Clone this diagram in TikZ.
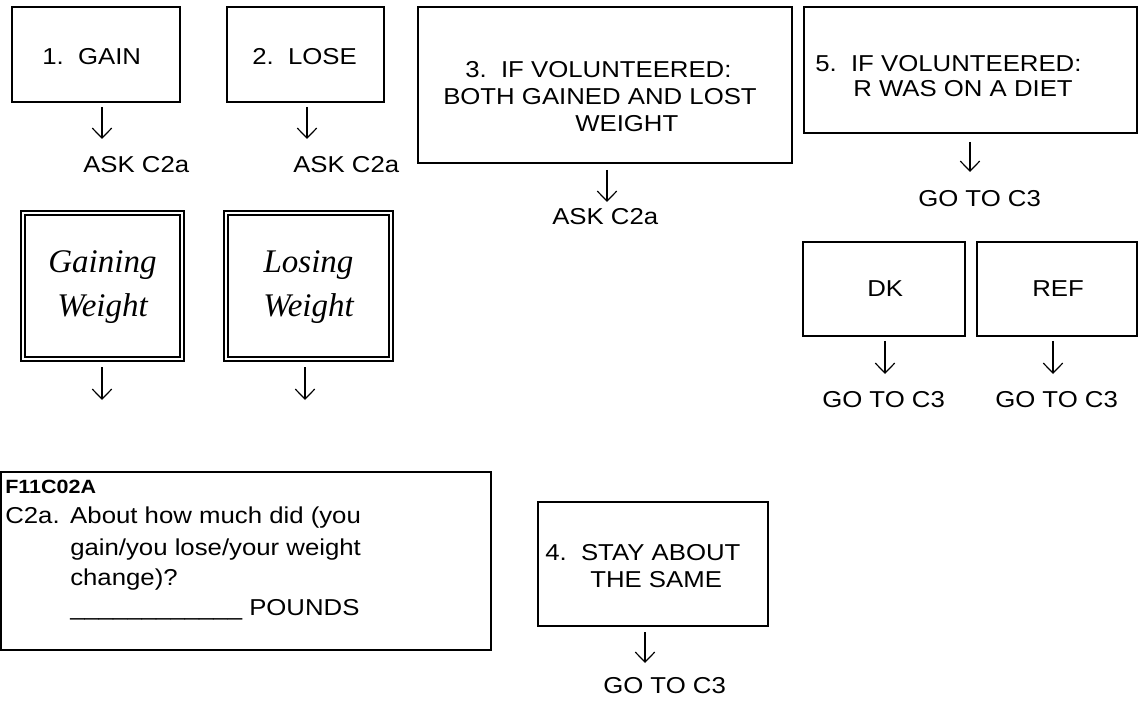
\documentclass[tikz,border=0pt]{standalone}
\usepackage{fontspec}
\usetikzlibrary{arrows.meta,fit}
\newfontfamily\arialf[FakeStretch=1.12]{Liberation Sans}
\newfontfamily\serifit{Liberation Serif}
\begin{document}
\begin{tikzpicture}[x=0.75pt,y=-0.75pt,
  box/.style={draw, line width=1.5pt, inner sep=0pt},
  dbox/.style={draw, double, line width=1.2pt, double distance=1.8pt, inner sep=0pt},
  txt/.style={anchor=base west, inner sep=0pt, font=\arialf\fontsize{17.25pt}{20pt}\selectfont},
  small/.style={anchor=base west, inner sep=0pt, font=\arialf\bfseries\fontsize{14.4pt}{16pt}\selectfont},
  ital/.style={anchor=base, inner sep=0pt, font=\serifit\itshape\fontsize{24.75pt}{30pt}\selectfont},
  arr/.style={line width=0.9pt, -{Straight Barb[length=7.5pt,width=14.5pt]}}
]
\useasboundingbox (0,0) rectangle (1139,702);

% boxes
\node[box, fit={(12,7) (180,102)}] (b1) {};
\node[box, fit={(227,7) (384,102)}] (b2) {};
\node[box, fit={(418,7) (792,163)}] (b3) {};
\node[box, fit={(804,7) (1137,133)}] (b5) {};
\node[box, fit={(803,242) (965,336)}] (dk) {};
\node[box, fit={(977,242) (1137,336)}] (ref) {};
\node[dbox, fit={(22.8,212.8) (182.2,359.2)}] (gw) {};
\node[dbox, fit={(225.8,212.8) (391.2,359.2)}] (lw) {};
\node[box, fit={(1,472) (491,650)}] (f11) {};
\node[box, fit={(538,502) (768,626)}] (b4) {};

% box texts
\node[txt] (t1) at (42,65) {1.\ \ GAIN};
\node[txt] (t2) at (252,65) {2.\ \ LOSE};
\node[txt] (t3a) at (465,78) {3.\ \ IF VOLUNTEERED:};
\node[txt] (t3b) at (443,105) {BOTH GAINED AND LOST};
\node[txt] (t3c) at (575,132) {WEIGHT};
\node[txt] (t5a) at (815,72) {5.\ \ IF VOLUNTEERED:};
\node[txt] (t5b) at (853,97) {R WAS ON A DIET};
\node[txt] (tdk) at (867,297) {DK};
\node[txt] (tref) at (1032,297) {REF};
\node[ital] (tg1) at (102.5,273) {Gaining};
\node[ital] (tg2) at (102.5,317) {Weight};
\node[ital] (tl1) at (308.5,273) {Losing};
\node[ital] (tl2) at (308.5,317) {Weight};
\node[small] (tf) at (5,493) {F11C02A};
\node[txt] (tq1) at (5,523) {\makebox[48.75pt][l]{C2a.}About how much did (you};
\node[txt] (tq2) at (70,555) {gain/you lose/your weight};
\node[txt] (tq3) at (70,585) {change)?};
\node[txt] (tq4) at (70,615) {\_\_\_\_\_\_\_\_\_\_\_\_ POUNDS};
\node[txt] (t4a) at (545,560) {4.\ \ STAY ABOUT};
\node[txt] (t4b) at (590,587) {THE SAME};

% outcome labels
\node[txt] (ask1) at (83,173) {ASK C2a};
\node[txt] (ask2) at (293,173) {ASK C2a};
\node[txt] (ask3) at (552,225) {ASK C2a};
\node[txt] (go5) at (918,207) {GO TO C3};
\node[txt] (godk) at (822,407) {GO TO C3};
\node[txt] (goref) at (995,407) {GO TO C3};
\node[txt] (go4) at (603,693) {GO TO C3};

% arrow end points
\coordinate (a1s) at (102,107);  \coordinate (a1e) at (102,139);
\coordinate (a2s) at (307,107);  \coordinate (a2e) at (307,139);
\coordinate (a3s) at (607,170);  \coordinate (a3e) at (607,202);
\coordinate (a5s) at (970,142);  \coordinate (a5e) at (970,172);
\coordinate (adks) at (885,341); \coordinate (adke) at (885,374);
\coordinate (arfs) at (1053,341);\coordinate (arfe) at (1053,374);
\coordinate (ags) at (102,367);  \coordinate (age) at (102,400);
\coordinate (als) at (305,367);  \coordinate (ale) at (305,400);
\coordinate (a4s) at (645,632);  \coordinate (a4e) at (645,663);

\draw[arr] (a1s) -- (a1e);
\draw[arr] (a2s) -- (a2e);
\draw[arr] (a3s) -- (a3e);
\draw[arr] (a5s) -- (a5e);
\draw[arr] (adks) -- (adke);
\draw[arr] (arfs) -- (arfe);
\draw[arr] (ags) -- (age);
\draw[arr] (als) -- (ale);
\draw[arr] (a4s) -- (a4e);
\end{tikzpicture}
\end{document}
